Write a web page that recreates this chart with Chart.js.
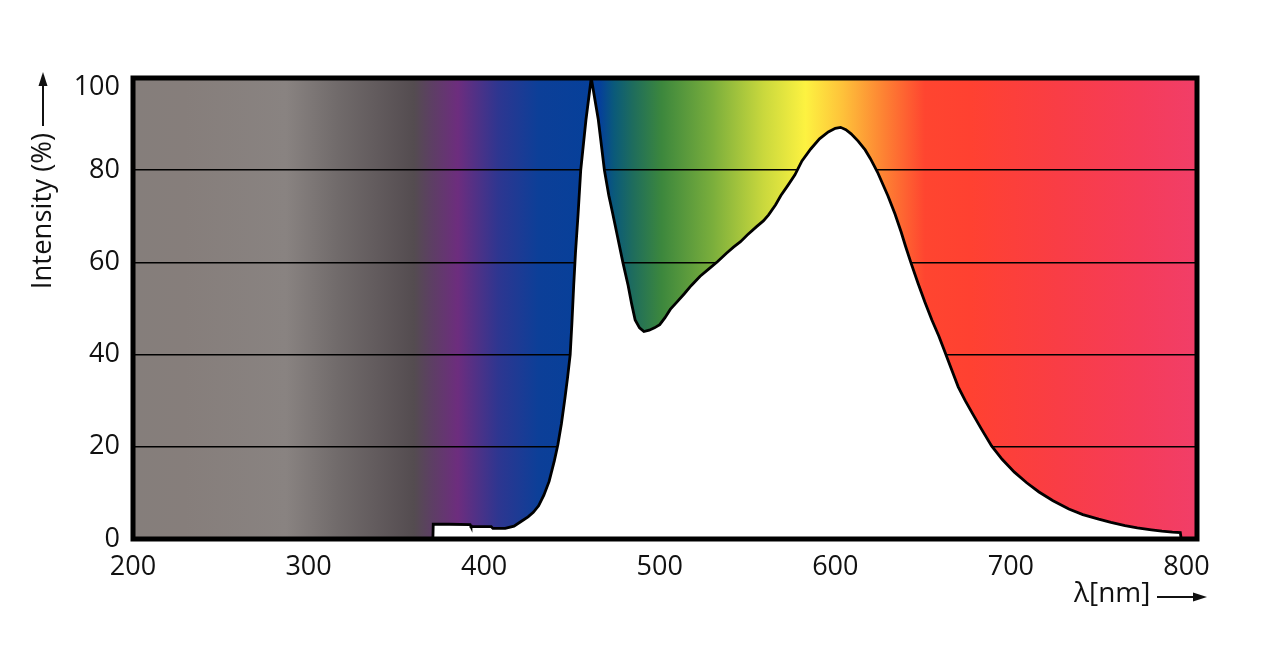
<!DOCTYPE html>
<html>
<head>
<meta charset="utf-8">
<script src="https://cdn.jsdelivr.net/npm/chart.js@4.4.0/dist/chart.umd.min.js"></script>
<style>
  html, body { margin: 0; padding: 0; background: #fff; }
</style>
</head>
<body>
<canvas id="spectrum" width="1286" height="652"></canvas>
<script>
// spectrum: wavelength (nm) and relative intensity (%)
var wavelengths = [370.8, 371, 380, 392, 392.5, 404, 405, 412, 417, 421, 425, 428, 431, 434, 437, 440, 442, 444, 446, 447.5,
	449, 450, 451, 452, 453.5, 455, 458, 461, 465, 468.5, 471, 473, 476, 479, 482, 484, 486, 488.5, 491, 494,
	497, 500, 503, 506, 510, 514, 518, 523, 528, 533, 538, 542, 546, 550, 555, 559, 562, 566, 569, 573,
	577, 581, 586, 591, 596, 600, 603, 606, 609, 613, 617, 620, 624, 627, 630, 634, 637.5, 640, 643, 647,
	651, 655, 659, 662, 666, 670, 674, 678, 683, 689, 695, 702, 709, 716, 724, 733, 741, 750, 757, 765,
	772, 780, 786, 792, 796.5, 797];
var intensity = [0, 3.2, 3.2, 3.1, 2.7, 2.7, 2.3, 2.3, 2.8, 3.8, 4.8, 5.8, 7.2, 9.5, 12.5, 17, 20.5, 25, 30.5, 35,
	40, 47, 55, 62, 70.5, 80, 91, 100, 91, 80, 74.5, 71, 65.5, 60, 55, 51, 47.5, 45.8, 45, 45.3,
	45.8, 46.5, 48, 49.8, 51.5, 53.2, 55, 57, 58.6, 60.2, 62, 63.3, 64.5, 66, 67.7, 69, 70.3, 72.5, 74.5, 76.7,
	79, 82, 84.6, 86.8, 88.3, 89.1, 89.3, 88.8, 87.9, 86.3, 84.4, 82.5, 79.6, 77, 74.4, 70.5, 66.6, 63.5, 60, 55.6,
	51.4, 47.5, 44, 41, 37, 33, 30, 27.3, 24, 20.2, 17.3, 14.5, 12.2, 10.2, 8.3, 6.5, 5.3, 4.3, 3.6, 2.9,
	2.4, 2.0, 1.7, 1.5, 1.4, 0];

var xTicks = [200, 300, 400, 500, 600, 700, 800];
var yTicks = [0, 20, 40, 60, 80, 100];

// background colour bands by wavelength
var bandNm = [200, 229, 287, 316, 360, 369, 385, 408, 431, 466, 474, 485, 501, 530, 559, 583, 604, 628, 651, 677, 726, 774, 806];
var bandColors = ['#857e7b', '#867e7b', '#898381', '#716b6b', '#544c50', '#5c4062', '#6d2d7e', '#2e3690', '#0c3f98', '#05409a',
	'#0a5a7a', '#1f6d5c', '#3c873d', '#7aae3c', '#c9d83d', '#fdf241', '#fec23a', '#fd8133', '#ff4530', '#ff4131',
	'#f93d45', '#f53c5a', '#f13e68'];

var yTitle = 'Intensity (%)';
var xTitle = 'λ[nm]';

var FONT = '"Open Sans", "Noto Sans", sans-serif';

var points = wavelengths.map(function (w, i) {
	return { x: w, y: intensity[i] };
});

// spectrum gradient behind everything, placed with the x scale
var spectrumBackground = {
	id: 'spectrumBackground',
	beforeDraw: function (chart) {
		var a = chart.chartArea;
		var xs = chart.scales.x;
		var ctx = chart.ctx;
		var g = ctx.createLinearGradient(a.left, 0, a.right, 0);
		bandNm.forEach(function (nm, i) {
			var p = (xs.getPixelForValue(nm) - a.left) / (a.right - a.left);
			g.addColorStop(Math.min(1, Math.max(0, p)), bandColors[i]);
		});
		ctx.save();
		ctx.fillStyle = g;
		ctx.fillRect(a.left, a.top, a.right - a.left, a.bottom - a.top);
		ctx.restore();
	}
};

function arrowHead(ctx, x, y, dx, dy) {
	// tip at (x, y), pointing along (dx, dy)
	var len = 14, half = 4.5;
	ctx.beginPath();
	ctx.moveTo(x, y);
	ctx.lineTo(x - dx * len - dy * half, y - dy * len + dx * half);
	ctx.lineTo(x - dx * len + dy * half, y - dy * len - dx * half);
	ctx.closePath();
	ctx.fill();
}

// thick frame plus the axis titles with their arrows
var frameAndTitles = {
	id: 'frameAndTitles',
	afterDraw: function (chart) {
		var a = chart.chartArea;
		var ctx = chart.ctx;
		ctx.save();
		ctx.strokeStyle = '#000';
		ctx.lineWidth = 5;
		ctx.strokeRect(a.left, a.top, a.right - a.left, a.bottom - a.top);

		ctx.fillStyle = '#111';
		ctx.strokeStyle = '#111';
		ctx.lineWidth = 2;

		// y title, rotated
		ctx.save();
		ctx.translate(51, 211);
		ctx.rotate(-Math.PI / 2);
		ctx.font = '27.5px ' + FONT;
		ctx.textAlign = 'center';
		ctx.textBaseline = 'alphabetic';
		ctx.fillText(yTitle, 0, 0);
		ctx.restore();
		ctx.beginPath();
		ctx.moveTo(43, 126);
		ctx.lineTo(43, 84);
		ctx.stroke();
		arrowHead(ctx, 43, 72, 0, -1);

		// x title
		ctx.font = '28px ' + FONT;
		ctx.textAlign = 'left';
		ctx.textBaseline = 'alphabetic';
		ctx.fillText(xTitle, 1074, 602);
		ctx.beginPath();
		ctx.moveTo(1157, 597);
		ctx.lineTo(1195, 597);
		ctx.stroke();
		arrowHead(ctx, 1207, 597, 1, 0);
		ctx.restore();
	}
};

new Chart(document.getElementById('spectrum'), {
	type: 'line',
	data: {
		datasets: [
			{
				data: points,
				fill: 'origin',
				backgroundColor: '#ffffff',
				borderColor: '#000000',
				borderWidth: 2.8,
				pointRadius: 0,
				tension: 0
			}
		]
	},
	options: {
		responsive: false,
		animation: false,
		events: [],
		layout: {
			padding: { left: 33, right: 89, top: 78, bottom: 53 }
		},
		plugins: {
			legend: { display: false },
			tooltip: { enabled: false }
		},
		scales: {
			x: {
				type: 'linear',
				min: 200,
				max: 806,
				afterFit: function (s) { s.height = 60; },
				afterBuildTicks: function (s) {
					s.ticks = xTicks.map(function (v) { return { value: v }; });
				},
				grid: { display: false },
				border: { display: false },
				ticks: {
					padding: 4,
					color: '#111',
					font: { family: FONT, size: 27 },
					maxRotation: 0
				}
			},
			y: {
				min: 0,
				max: 100,
				afterFit: function (s) { s.width = 100; },
				afterBuildTicks: function (s) {
					s.ticks = yTicks.map(function (v) { return { value: v }; });
				},
				grid: { color: '#000', lineWidth: 1.6, drawTicks: false },
				border: { display: false },
				ticks: {
					padding: 13,
					color: '#111',
					// the top label sits a little below its gridline, as in the original
					callback: function (v) { return v === 100 ? ['', '100'] : String(v); },
					font: function (c) {
						return { family: FONT, size: 27, lineHeight: c.tick && c.tick.value === 100 ? 0.7 : 1.2 };
					}
				}
			}
		}
	},
	plugins: [spectrumBackground, frameAndTitles]
});
</script>
</body>
</html>
